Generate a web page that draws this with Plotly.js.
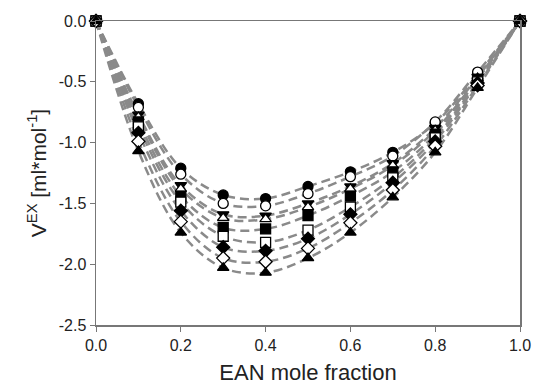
<!DOCTYPE html>
<html>
<head>
<meta charset="utf-8">
<script src="https://cdn.plot.ly/plotly-3.0.1.min.js"></script>
<style>html,body{margin:0;padding:0;background:#fff;}#chart{width:533px;height:392px;}</style>
</head>
<body>
<div id="chart"></div>
<script>
const xFrac = [0, 0.1, 0.2, 0.3, 0.4, 0.5, 0.6, 0.7, 0.8, 0.9, 1.0];
const sFilledCircle = [0, -0.68, -1.21, -1.43, -1.46, -1.36, -1.24, -1.08, -0.84, -0.44, 0];
const sOpenCircle   = [0, -0.71, -1.26, -1.50, -1.52, -1.42, -1.28, -1.11, -0.83, -0.42, 0];
const sFilledTriDn  = [0, -0.77, -1.35, -1.59, -1.60, -1.50, -1.36, -1.17, -0.88, -0.46, 0];
const sOpenTriUp    = [0, -0.79, -1.38, -1.62, -1.63, -1.53, -1.38, -1.19, -0.90, -0.47, 0];
const sFilledSquare = [0, -0.83, -1.44, -1.70, -1.71, -1.60, -1.44, -1.24, -0.93, -0.48, 0];
const sOpenSquare   = [0, -0.87, -1.49, -1.77, -1.82, -1.72, -1.53, -1.29, -0.96, -0.50, 0];
const sFilledDiam   = [0, -0.92, -1.56, -1.86, -1.89, -1.79, -1.59, -1.33, -0.99, -0.51, 0];
const sOpenDiam     = [0, -0.99, -1.65, -1.95, -1.98, -1.87, -1.66, -1.39, -1.03, -0.53, 0];
const sFilledTriUp  = [0, -1.07, -1.74, -2.03, -2.07, -1.95, -1.74, -1.45, -1.08, -0.55, 0];

const xTicks = [0, 0.2, 0.4, 0.6, 0.8, 1.0];
const xTickText = ["0.0", "0.2", "0.4", "0.6", "0.8", "1.0"];
const yTicks = [0, -0.5, -1.0, -1.5, -2.0, -2.5];
const yTickText = ["0.0", "-0.5", "-1.0", "-1.5", "-2.0", "-2.5"];

const series = [
  {y: sFilledCircle, sym: 'circle', fill: 'black'},
  {y: sOpenCircle, sym: 'circle', fill: 'white'},
  {y: sFilledTriDn, sym: 'triangle-down', fill: 'black'},
  {y: sOpenTriUp, sym: 'triangle-up', fill: 'white'},
  {y: sFilledSquare, sym: 'square', fill: 'black'},
  {y: sOpenSquare, sym: 'square', fill: 'white'},
  {y: sFilledDiam, sym: 'diamond', fill: 'black'},
  {y: sOpenDiam, sym: 'diamond', fill: 'white'},
  {y: sFilledTriUp, sym: 'triangle-up', fill: 'black'}
];

const traces = [];
series.forEach(s => {
  traces.push({x: xFrac, y: s.y, mode: 'lines', type: 'scatter', hoverinfo: 'skip',
    line: {shape: 'spline', smoothing: 1.0, color: '#8a8a8a', width: 2.5, dash: '9px,5px'}});
});
series.forEach(s => {
  traces.push({x: xFrac, y: s.y, mode: 'markers', type: 'scatter', cliponaxis: false,
    marker: {symbol: s.sym, size: 10, color: s.fill, line: {color: 'black', width: 1.3}}});
});

const fam = 'Liberation Sans, Arial, sans-serif';
const axFont = {family: fam, size: 16, color: '#222'};
const layout = {
  width: 533, height: 392,
  margin: {l: 96, r: 13, t: 21, b: 67},
  paper_bgcolor: 'white', plot_bgcolor: 'white',
  showlegend: false,
  font: axFont,
  xaxis: {range: [0, 1], tickvals: xTicks, ticktext: xTickText, ticks: 'outside', ticklen: 5,
    tickcolor: '#777', showline: true, linecolor: '#777', linewidth: 1.5, mirror: true,
    showgrid: false, zeroline: false, tickfont: axFont,
    title: {text: 'EAN mole fraction', font: {family: fam, size: 22, color: '#222'}, standoff: 12}},
  yaxis: {range: [-2.5, 0], tickvals: yTicks, ticktext: yTickText, ticks: 'outside', ticklen: 5,
    tickcolor: '#777', showline: true, linecolor: '#777', linewidth: 1.5, mirror: true,
    showgrid: false, zeroline: false, tickfont: axFont,
    title: {text: 'V<sup>EX</sup> [ml*mol<sup>-1</sup>]', font: {family: fam, size: 21, color: '#222'}, standoff: 6}}
};

Plotly.newPlot('chart', traces, layout, {displayModeBar: false, staticPlot: true});
</script>
</body>
</html>
